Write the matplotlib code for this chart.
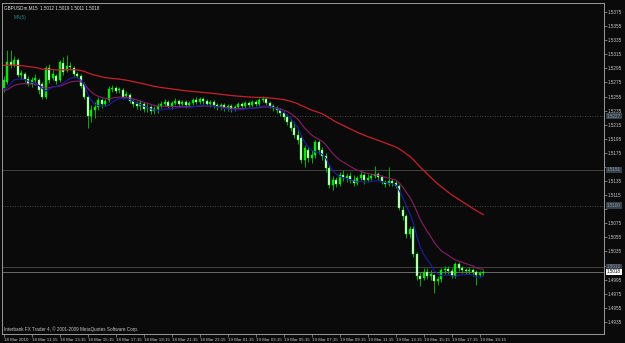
import numpy as np
import pandas as pd
import matplotlib
matplotlib.use("Agg")
import matplotlib.pyplot as plt

plt.rcParams['font.family'] = ['Liberation Sans', 'DejaVu Sans']

# GBPUSD M15, 18 Mar 2010 09:15 .. 19 Mar 2010 19:45
header = "GBPUSDm,M15  1.5012 1.5019 1.5011 1.5018"
ind_label = "MA(5)"
copyright_txt = "Interbank FX Trader 4, \u00a9 2001-2009 MetaQuotes Software Corp."

opens = [1.5267, 1.5276, 1.5304, 1.5300, 1.5307, 1.5286, 1.5287, 1.5280, 1.5273, 1.5278,
         1.5278, 1.5273, 1.5254, 1.5295, 1.5281, 1.5284, 1.5278, 1.5303, 1.5293, 1.5298,
         1.5295, 1.5287, 1.5284, 1.5273, 1.5254, 1.5227, 1.5236, 1.5240, 1.5250, 1.5244,
         1.5250, 1.5266, 1.5267, 1.5264, 1.5264, 1.5256, 1.5257, 1.5249, 1.5244, 1.5242,
         1.5244, 1.5239, 1.5240, 1.5234, 1.5237, 1.5242, 1.5244, 1.5247, 1.5242, 1.5246,
         1.5249, 1.5244, 1.5247, 1.5243, 1.5246, 1.5250, 1.5247, 1.5251, 1.5249, 1.5244,
         1.5247, 1.5243, 1.5240, 1.5243, 1.5239, 1.5242, 1.5237, 1.5240, 1.5244, 1.5242,
         1.5246, 1.5243, 1.5247, 1.5244, 1.5250, 1.5251, 1.5246, 1.5242, 1.5239, 1.5236,
         1.5232, 1.5226, 1.5219, 1.5210, 1.5200, 1.5196, 1.5165, 1.5179, 1.5168, 1.5172,
         1.5190, 1.5179, 1.5171, 1.5153, 1.5129, 1.5136, 1.5131, 1.5144, 1.5139, 1.5142,
         1.5136, 1.5132, 1.5139, 1.5144, 1.5136, 1.5139, 1.5142, 1.5145, 1.5141, 1.5134,
         1.5131, 1.5135, 1.5132, 1.5128, 1.5094, 1.5085, 1.5060, 1.5067, 1.5031, 1.5000,
         1.4997, 1.5006, 1.5000, 1.5002, 1.4993, 1.4996, 1.5009, 1.5010, 1.5007, 1.5000,
         1.5017, 1.5011, 1.5009, 1.5007, 1.5009, 1.5006, 1.5002, 1.5004]
closes = [1.5278, 1.5304, 1.5300, 1.5307, 1.5286, 1.5288, 1.5280, 1.5273, 1.5278, 1.5281,
          1.5264, 1.5254, 1.5295, 1.5278, 1.5287, 1.5277, 1.5304, 1.5290, 1.5298, 1.5297,
          1.5287, 1.5284, 1.5270, 1.5254, 1.5227, 1.5236, 1.5240, 1.5250, 1.5244, 1.5249,
          1.5266, 1.5267, 1.5263, 1.5266, 1.5254, 1.5259, 1.5249, 1.5244, 1.5242, 1.5246,
          1.5237, 1.5240, 1.5234, 1.5237, 1.5242, 1.5244, 1.5247, 1.5242, 1.5246, 1.5249,
          1.5244, 1.5247, 1.5243, 1.5246, 1.5250, 1.5247, 1.5251, 1.5249, 1.5244, 1.5247,
          1.5243, 1.5240, 1.5243, 1.5239, 1.5242, 1.5237, 1.5240, 1.5244, 1.5242, 1.5246,
          1.5243, 1.5247, 1.5244, 1.5250, 1.5251, 1.5246, 1.5242, 1.5239, 1.5236, 1.5232,
          1.5226, 1.5219, 1.5210, 1.5200, 1.5193, 1.5165, 1.5182, 1.5168, 1.5172, 1.5190,
          1.5179, 1.5171, 1.5153, 1.5129, 1.5136, 1.5131, 1.5144, 1.5139, 1.5142, 1.5136,
          1.5132, 1.5139, 1.5144, 1.5136, 1.5139, 1.5142, 1.5145, 1.5141, 1.5134, 1.5131,
          1.5135, 1.5132, 1.5128, 1.5097, 1.5085, 1.5060, 1.5067, 1.5031, 1.5000, 1.4996,
          1.5006, 1.5000, 1.5003, 1.4993, 1.4996, 1.5009, 1.5010, 1.5007, 1.5000, 1.5017,
          1.5011, 1.5009, 1.5007, 1.5009, 1.5006, 1.5002, 1.5004, 1.5006]
highs = [1.5284, 1.5321, 1.5321, 1.5313, 1.5310, 1.5293, 1.5290, 1.5284, 1.5283, 1.5287,
         1.5281, 1.5276, 1.5298, 1.5301, 1.5293, 1.5287, 1.5307, 1.5311, 1.5314, 1.5304,
         1.5298, 1.5290, 1.5287, 1.5276, 1.5257, 1.5243, 1.5247, 1.5254, 1.5253, 1.5251,
         1.5270, 1.5271, 1.5270, 1.5268, 1.5267, 1.5263, 1.5260, 1.5251, 1.5249, 1.5250,
         1.5247, 1.5244, 1.5243, 1.5242, 1.5246, 1.5249, 1.5251, 1.5250, 1.5249, 1.5253,
         1.5251, 1.5250, 1.5250, 1.5249, 1.5253, 1.5254, 1.5254, 1.5254, 1.5251, 1.5250,
         1.5250, 1.5246, 1.5246, 1.5246, 1.5244, 1.5244, 1.5243, 1.5247, 1.5247, 1.5249,
         1.5249, 1.5250, 1.5250, 1.5253, 1.5256, 1.5254, 1.5249, 1.5244, 1.5242, 1.5239,
         1.5234, 1.5230, 1.5224, 1.5219, 1.5207, 1.5200, 1.5186, 1.5183, 1.5179, 1.5193,
         1.5193, 1.5183, 1.5175, 1.5158, 1.5142, 1.5141, 1.5148, 1.5151, 1.5146, 1.5148,
         1.5144, 1.5142, 1.5151, 1.5146, 1.5145, 1.5146, 1.5156, 1.5148, 1.5144, 1.5136,
         1.5155, 1.5138, 1.5136, 1.5131, 1.5100, 1.5088, 1.5071, 1.5071, 1.5034, 1.5006,
         1.5011, 1.5011, 1.5009, 1.5003, 1.5000, 1.5011, 1.5014, 1.5014, 1.5011, 1.5020,
         1.5020, 1.5014, 1.5011, 1.5013, 1.5011, 1.5009, 1.5007, 1.5009]
lows = [1.5261, 1.5273, 1.5295, 1.5297, 1.5283, 1.5280, 1.5276, 1.5270, 1.5268, 1.5271,
        1.5259, 1.5251, 1.5251, 1.5274, 1.5278, 1.5273, 1.5276, 1.5286, 1.5290, 1.5293,
        1.5284, 1.5281, 1.5267, 1.5251, 1.5210, 1.5219, 1.5224, 1.5236, 1.5239, 1.5242,
        1.5247, 1.5261, 1.5260, 1.5260, 1.5251, 1.5253, 1.5246, 1.5240, 1.5237, 1.5236,
        1.5233, 1.5233, 1.5230, 1.5230, 1.5232, 1.5239, 1.5242, 1.5239, 1.5237, 1.5243,
        1.5240, 1.5242, 1.5239, 1.5240, 1.5243, 1.5244, 1.5244, 1.5244, 1.5242, 1.5240,
        1.5239, 1.5236, 1.5236, 1.5234, 1.5234, 1.5233, 1.5234, 1.5237, 1.5239, 1.5239,
        1.5240, 1.5240, 1.5242, 1.5242, 1.5247, 1.5243, 1.5239, 1.5234, 1.5232, 1.5227,
        1.5222, 1.5215, 1.5206, 1.5196, 1.5188, 1.5161, 1.5155, 1.5162, 1.5161, 1.5168,
        1.5173, 1.5165, 1.5148, 1.5125, 1.5122, 1.5127, 1.5128, 1.5135, 1.5134, 1.5132,
        1.5128, 1.5129, 1.5136, 1.5131, 1.5134, 1.5136, 1.5139, 1.5136, 1.5131, 1.5127,
        1.5128, 1.5128, 1.5125, 1.5094, 1.5080, 1.5054, 1.5054, 1.5027, 1.4994, 1.4986,
        1.4994, 1.4996, 1.4994, 1.4976, 1.4987, 1.4992, 1.5003, 1.5003, 1.4997, 1.4997,
        1.5007, 1.5004, 1.5003, 1.5003, 1.5000, 1.4987, 1.4999, 1.5002]

# moving average settings / starting values carried in from earlier bars
red_span, red_seed = 60, 1.5300
purple_span, purple_seed = 18, 1.5264
blue_span, blue_seed = 8, 1.5267

time_labels = ["18 Mar 2010", "18 Mar 11:15", "18 Mar 13:15", "18 Mar 15:15", "18 Mar 17:15",
               "18 Mar 19:15", "18 Mar 21:15", "18 Mar 23:15", "19 Mar 01:15", "19 Mar 03:15",
               "19 Mar 05:15", "19 Mar 07:15", "19 Mar 09:15", "19 Mar 11:15", "19 Mar 13:15",
               "19 Mar 15:15", "19 Mar 17:15", "19 Mar 19:15"]
label_every = 8

price_ticks = [1.5375, 1.5355, 1.5335, 1.5315, 1.5295, 1.5275, 1.5255, 1.5235, 1.5215, 1.5195,
               1.5175, 1.5155, 1.5135, 1.5115, 1.5095, 1.5075, 1.5055, 1.5035, 1.5015, 1.4995,
               1.4975, 1.4955, 1.4935]
dotted_levels = [1.5227, 1.5100]
solid_levels = [1.5151, 1.5013]
bid_text = "1.5018"

bg = "#0a0a0a"
fg = "#c8c8c8"
fs = 3.3

o = np.array(opens)
c = np.array(closes)
h = np.maximum(np.array(highs), np.maximum(o, c))
l = np.minimum(np.array(lows), np.minimum(o, c))
x = np.arange(len(c))

def ema(values, span, seed):
    s = pd.Series([seed] + list(values)).ewm(span=span, adjust=False).mean()
    return s.values[1:]

red = ema(c, red_span, red_seed)
purple = ema(l, purple_span, purple_seed)
blue = ema(l, blue_span, blue_seed)

fig = plt.figure(figsize=(6.25, 3.43), dpi=100, facecolor=bg)
ax = fig.add_axes([2 / 625, 9 / 343, 602 / 625, 331 / 343])
ax.set_facecolor(bg)
ax.set_xlim(-0.5, 171.5)
ax.set_ylim(1.49178, 1.53878)

for lv in dotted_levels:
    ax.axhline(lv, color="#5a5a5a", lw=0.6, ls=(0, (1, 2)), zorder=1)
for lv in solid_levels:
    ax.axhline(lv, color="#4a4a4a", lw=0.6, zorder=1)
ax.axhline(c[-1], color="#7a7a7a", lw=0.6, zorder=1)

# candles
ax.vlines(x, l, h, color="#00b000", lw=0.7, zorder=2)
up = c >= o
ax.bar(x[up], (c - o)[up], bottom=o[up], width=0.7, color="#18d818",
       edgecolor="#00ff00", lw=0.3, zorder=3)
ax.bar(x[~up], (c - o)[~up], bottom=o[~up], width=0.7, color="#f4f4f4",
       edgecolor="#00ff00", lw=0.3, zorder=3)

ax.plot(x, red, color="#c8202a", lw=0.9, zorder=4)
ax.plot(x, purple, color="#8a1c6a", lw=0.8, zorder=4)
ax.plot(x, blue, color="#1c1ca8", lw=0.8, zorder=4)

for s in ax.spines.values():
    s.set_color("#9a9a9a")
    s.set_linewidth(0.7)

# price scale: tick labels hidden where a level box sits on top of them
boxed = dotted_levels + solid_levels + [c[-1]]
ax.yaxis.tick_right()
ax.set_yticks(price_ticks)
ax.set_yticklabels(["" if min(abs(v - b) for b in boxed) < 0.0007 else f"{v:.4f}"
                    for v in price_ticks])
ax.tick_params(axis="y", length=2, width=0.5, pad=1, labelsize=fs,
               colors="#9a9a9a", labelcolor=fg)
ax.set_xticks(x[::label_every][:len(time_labels)])
ax.set_xticklabels(time_labels)
ax.tick_params(axis="x", length=2, width=0.5, pad=1, labelsize=3.2,
               colors="#9a9a9a", labelcolor=fg)
for t in ax.get_xticklabels():
    t.set_ha("left")

# level labels and current price box on the price scale
for lv in dotted_levels + solid_levels:
    ax.text(1.005, lv, f"{lv:.4f}", transform=ax.get_yaxis_transform(), fontsize=fs,
            color="#8a96a4", va="center", ha="left", zorder=5,
            bbox=dict(boxstyle="square,pad=0.15", fc="#36404a", ec="none"))
ax.text(1.005, c[-1], bid_text, transform=ax.get_yaxis_transform(), fontsize=fs,
        color="black", va="center", ha="left", zorder=6,
        bbox=dict(boxstyle="square,pad=0.15", fc="white", ec="none"))

ax.text(0.004, 0.992, header, transform=ax.transAxes, fontsize=fs, color="#e0e0e0",
        va="top", ha="left")
ax.text(0.02, 0.965, ind_label, transform=ax.transAxes, fontsize=fs, color="#2a8a8a",
        va="top", ha="left")
ax.text(0.004, 0.005, copyright_txt, transform=ax.transAxes, fontsize=fs, color=fg,
        va="bottom", ha="left")

fig.savefig("out.png", dpi=100, facecolor=bg)
